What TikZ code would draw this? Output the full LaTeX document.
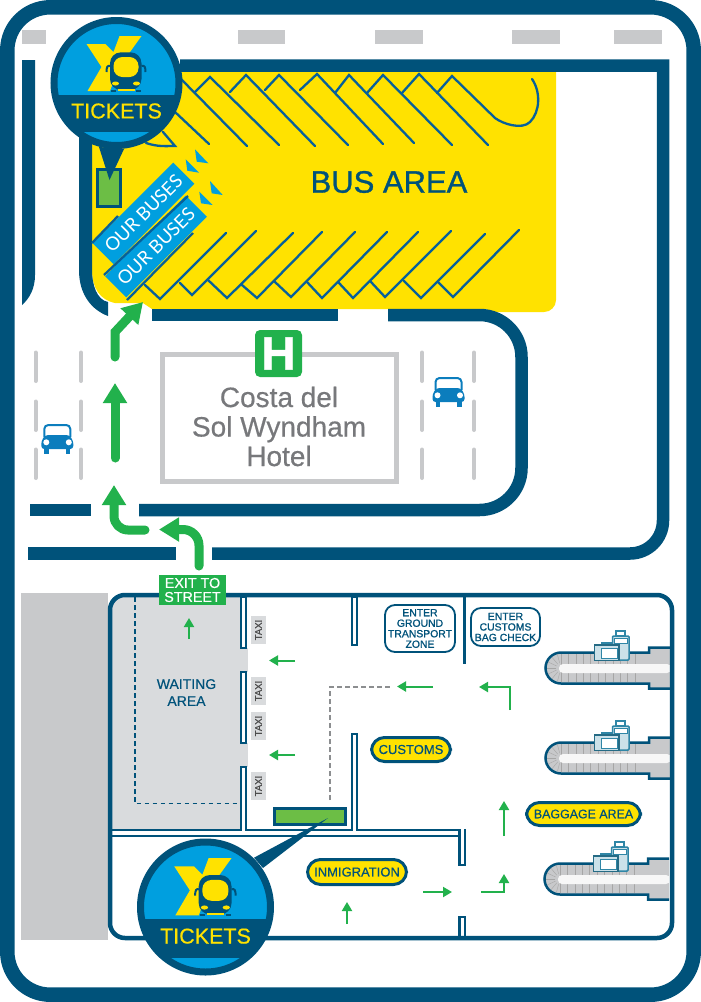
\documentclass[tikz,border=0pt]{standalone}
\usepackage{xcolor}
\usepackage{fontspec}
\setmainfont{Liberation Sans}[RawFeature={embolden=0.5}]
\newfontfamily\platefont{Lato}
\newfontfamily\heavyfont{Liberation Sans}[RawFeature={embolden=1.0}]
\usetikzlibrary{
  arrows.meta,
  shapes.geometric,
  positioning,
  calc
}
\definecolor{mapNavy}{HTML}{00527A}
\definecolor{mapBlue}{HTML}{009FDF}
\definecolor{mapCar}{HTML}{0B7DBD}
\definecolor{mapLine}{HTML}{07609A}
\definecolor{mapYellow}{HTML}{FFE200}
\definecolor{mapGreen}{HTML}{22B14C}
\definecolor{mapBooth}{HTML}{6CBE45}
\definecolor{mapGrey}{HTML}{C8C9CB}
\definecolor{mapLight}{HTML}{D9DBDD}
\definecolor{mapText}{HTML}{77787B}
\definecolor{mapDots}{HTML}{8C8E90}
\definecolor{mapTeal}{HTML}{2F86A6}
\tikzset{
  roadline/.style={draw=mapNavy, line width=12.5pt},
  roaddash/.style={draw=mapGrey, line width=4pt, line cap=round},
  roadmark/.style={fill=mapGrey},
  parkline/.style={draw=mapLine, line width=2.3pt, line cap=round},
  bigarrow/.style={draw=mapGreen, line width=9pt, line cap=round, -{Triangle[length=20pt,width=23pt]}},
  smallarrow/.style={draw=mapGreen, line width=2pt, -{Triangle[length=9pt,width=10pt]}},
  wall/.style={draw=mapNavy, line width=2.3pt, fill=white},
  booth/.style={draw=mapNavy, line width=3pt, fill=mapBooth},
  pill/.style={draw=mapNavy, line width=3pt, fill=mapYellow, rounded corners=13pt, text=mapNavy, inner sep=0pt, font=\fontsize{13}{13}\selectfont},
  enterbox/.style={draw=mapNavy, line width=1.8pt, fill=white, rounded corners=10pt, text=mapNavy, align=center, inner sep=0pt, font=\heavyfont\fontsize{10.4}{10.5}\selectfont},
  taxibox/.style={fill=mapLight, minimum width=15pt, minimum height=28pt, inner sep=0pt},
  taxitext/.style={rotate=90, text=black!70, inner sep=0pt, font=\fontsize{9.5}{9.5}\selectfont},
  platebox/.style={fill=mapBlue, rotate=45, minimum width=114pt, minimum height=30pt, inner sep=0pt, text=white, font=\platefont\fontsize{18.5}{18.5}\selectfont},
  plateedge/.style={draw=mapLine, line width=2.3pt},
  plateflag/.style={fill=mapBlue},
  pics/ticketbadge/.style={code={
    \begin{scope}
      \clip (0,0) circle (63);
      \fill[mapBlue] (-70,-70) rectangle (70,70);
      \fill[mapNavy] (-70,12) rectangle (70,49);
    \end{scope}
    \fill[mapYellow] (-30,-39) -- (-11,-39) -- (-3,-31) -- (3,-47) -- (25,-47) -- (2,-15) -- (-6.5,8) -- (-29,8) -- (-15,-16) -- cycle;
    \draw[mapNavy, line width=2pt] (-6,-17) .. controls (-9,-18) and (-10,-16) .. (-10,-11);
    \draw[mapNavy, line width=2pt] (25,-17) .. controls (28,-18) and (29,-16) .. (29,-11);
    \fill[mapNavy, rounded corners=11pt] (-6.5,7) -- (-6.5,-30.7) -- (25,-30.7) -- (25,7) -- cycle;
    \fill[mapYellow, rounded corners=9pt] (-3,-6) -- (-3,-26) -- (22,-26) -- (22,-6) -- cycle;
    \fill[mapYellow] (-1,0.5) ellipse (3.5 and 2);
    \fill[mapYellow] (20,0.5) ellipse (3.5 and 2);
    \fill[mapYellow] (1,5.5) rectangle (18,7.7);
    \fill[mapNavy] (-5.5,7) rectangle (-0.5,9);
    \fill[mapNavy] (19.5,7) rectangle (24.5,9);
    \draw[mapNavy, line width=7pt] (0,0) circle (62.5);
    \node[text=mapYellow, inner sep=0pt, font=\fontsize{21.5}{21.5}\selectfont] (-label) at (0,28) {TICKETS};
  }},
  pics/carmark/.style={code={
    \draw[mapCar, line width=2pt, rounded corners=4pt] (-13,-2) -- (-13,-14) -- (13,-14) -- (13,-2);
    \fill[mapCar, rounded corners=3pt] (-16,10) -- (-16,2) -- (-12,-4) -- (12,-4) -- (16,2) -- (16,10) -- cycle;
    \fill[mapCar] (-13,9) rectangle (-8.5,15);
    \fill[mapCar] (8.5,9) rectangle (13,15);
    \fill[white] (-11,3.3) circle (3);
    \fill[white] (11.5,3.3) circle (3);
  }},
  pics/beltmark/.style={code={
    \draw[mapNavy, line width=2.5pt, fill=mapGrey] (109,-20.5) -- (88,-20.5) -- (88,-15.5) -- (0,-15.5) .. controls (-8.5,-15.5) and (-15.5,-8.5) .. (-15.5,0) .. controls (-15.5,8.5) and (-8.5,15.5) .. (0,15.5) -- (88,15.5) -- (88,20.5) -- (109,20.5);
    \foreach \tickx in {0,7.4,...,81} {
      \draw[black!35, line width=.4pt] (\tickx,-14) -- (\tickx,14);
    }
    \foreach \tickang in {105,130,155,180,205,230,255} {
      \draw[black!35, line width=.4pt] (\tickang:5) -- (\tickang:14);
    }
    \fill[black!3, rounded corners=4pt] (-2,-4) -- (110,-4) -- (110,5) -- (-2,5) -- cycle;
    \draw[mapTeal, line width=1.3pt, fill=white] (55,-32) rectangle (64,-37);
    \draw[mapTeal, line width=1.5pt, fill=mapTeal!25, rounded corners=1pt] (51.5,-32) rectangle (68,-8);
    \draw[mapTeal, line width=1pt, fill=white] (53.5,-30) rectangle (66,-25);
    \draw[mapTeal, line width=1.3pt, fill=mapTeal] (41,-23) rectangle (51,-25);
    \draw[mapTeal!80!black, line width=1.6pt, fill=mapTeal!25] (33.5,-23) rectangle (58,-7.5);
    \draw[mapTeal, line width=1pt, fill=white] (40,-20) rectangle (56,-10);
  }}
}
\begin{document}
\begin{tikzpicture}[x=1pt, y=-1pt]
  \useasboundingbox (0,0) rectangle (701,1002);
  \draw[mapNavy, line width=14.5pt, rounded corners=43pt] (7.3,7.3) rectangle (693.7,994.7);
  % road marks at the top
  \foreach \markx/\markw in {22/24,238/47,375/48,512/48,614/48} {
    \fill[roadmark] (\markx,30) rectangle ++(\markw,14);
  }
  \fill[mapNavy] (22,60) -- (35,60) -- (35,275) .. controls (35,288) and (30,298) .. (22,305) -- cycle;
  % bus area
  \fill[mapYellow, rounded corners=12pt] (92,71) [sharp corners] -- (556,71) [rounded corners=12pt] -- (556,312) [sharp corners] -- (487,312) -- (487,309) -- (152,309) -- (143,303) -- (115,303) .. controls (100,300) and (92,288) .. (92,270) -- cycle;
  \foreach \peakx/\peaky/\stubx/\stuby/\endx/\endy in {
    210/77/195/92/279/145, 246/75/230/92/315/146, 279/75/265/90/348/145, 317/74/300/90/383/144,
    349/75/335/93/414/143, 383/75/367/93/452/145, 419/74/402/93/488/145} {
    \draw[parkline] (\stubx,\stuby) -- (\peakx,\peaky) -- (\endx,\endy);
  }
  \draw[parkline] (175,112) -- (209,144);
  \draw[parkline] (180,78) -- (247,146);
  \draw[parkline] (437,93) -- (452,76) -- (495,118) .. controls (503,124) and (522,130) .. (530,122) .. controls (540,112) and (541,92) .. (532,79);
  \draw[parkline] (146,143) .. controls (158,147) and (166,146) .. (175,146) -- (163,132);
  \foreach \stubx/\stuby/\lowx/\lowy/\endx/\endy in {
    145/285/160/299/226/233, 180/283/192/295/256/231, 208/280/227/298/293/233, 242/285/257/298/322/232,
    275/282/291/297/355/232, 307/282/322/298/387/232, 339/283/353/298/418/232, 371/282/385/297/451/231,
    404/281/421/298/485/234, 438/282/453/297/519/230} {
    \draw[parkline] (\stubx,\stuby) -- (\lowx,\lowy) -- (\endx,\endy);
  }
  \node[text=mapNavy, inner sep=0pt, font=\heavyfont\fontsize{31}{31}\selectfont] (busarea) at (389,182) {BUS AREA};
  % walls around the bus area and the hotel
  \fill[mapNavy] (79,130) -- (79,270) .. controls (79,295) and (92,310) .. (108,316) -- (108,302) .. controls (97,300) and (92,285) .. (92,270) -- (92,130) -- cycle;
  \draw[roadline] (180,65.5) -- (663,65.5) [rounded corners=33pt] -- (663,553.5) -- (212,553.5);
  \draw[roadline] (28,553.5) -- (176,553.5);
  \draw[roadline] (152,315) -- (338,315);
  \draw[roadline, rounded corners=42pt] (388,315) -- (521.5,315) -- (521.5,510) -- (139,510);
  \draw[roadline] (30,510) -- (91,510);
  % hotel
  \draw[mapGrey, line width=5pt] (162.5,354.5) rectangle (396,481.5);
  \node[text=mapText, align=center, inner sep=0pt, font=\fontsize{28}{29.5}\selectfont] (hotel) at (279,426.5) {Costa del\\Sol Wyndham\\Hotel};
  \node[fill=mapGreen, rounded corners=5pt, minimum size=47pt, inner sep=0pt, text=white, font=\heavyfont\fontsize{47}{47}\selectfont\bfseries] (hsign) at (278.5,353.5) {H};
  \foreach \dashx in {35.5,81,422,474} {
    \foreach \dashy in {351,400,448} {
      \draw[roaddash] (\dashx,\dashy+1.5) -- (\dashx,\dashy+30);
    }
  }
  \pic at (57.3,439) {carmark};
  \pic at (448.5,392) {carmark};
  % street arrows
  \draw[bigarrow] (115,357) -- (115,332) -- (143,302);
  \draw[bigarrow] (115,458) -- (115,383);
  \draw[bigarrow, rounded corners=14pt] (145,530) -- (114,530) -- (114,485);
  \draw[bigarrow, rounded corners=16pt] (199,566) -- (199,529.5) -- (159,529.5);
  % terminal
  \fill[mapGrey] (21,593) rectangle (108,940);
  \fill[white, rounded corners=15pt] (110,595) rectangle (672,938);
  \fill[mapLight, rounded corners=15pt] (110,830) [rounded corners=15pt] -- (110,595) [sharp corners] -- (243,595) -- (243,830) -- cycle;
  \fill[mapLight] (243,648) rectangle (248,672);
  \fill[mapLight] (243,743) rectangle (248,767);
  \draw[mapNavy, line width=1.8pt, dash pattern=on 4.5pt off 3.5pt] (135,597) -- (135,803.5) -- (240,803.5);
  \node[text=mapNavy, align=center, inner sep=0pt, font=\fontsize{14}{17}\selectfont] (waiting) at (186.5,692.5) {WAITING\\AREA};
  \pic at (561,668) {beltmark};
  \pic at (561,758) {beltmark};
  \pic at (560,879) {beltmark};
  \draw[mapNavy, line width=2.3pt] (112,830) -- (465,830);
  \draw[mapNavy, line width=2.3pt] (112,836) -- (465,836);
  \draw[wall] (241.2,597) rectangle (245.8,648);
  \draw[wall] (241.2,672) rectangle (245.8,743);
  \draw[wall] (241.2,767) rectangle (245.8,830);
  \draw[wall] (352.2,597) rectangle (356.8,645);
  \draw[wall] (352.2,734) rectangle (356.8,830);
  \fill[white] (242.4,828) rectangle (244.6,835);
  \fill[white] (353.4,828) rectangle (355.6,835);
  \draw[wall] (459.6,830) rectangle (464.8,865);
  \fill[white] (460.8,828.5) rectangle (463.6,835);
  \draw[mapNavy, line width=2.3pt] (465,830) -- (465,836);
  \draw[wall] (459.6,917) rectangle (464.8,938);
  \draw[mapNavy, line width=3pt] (464.5,597) -- (464.5,664);
  \draw[mapNavy, line width=4.5pt, rounded corners=15pt] (110,595) rectangle (672,938);
  \draw[mapDots, line width=2.2pt, dash pattern=on 5pt off 3pt] (330,800) -- (330,687) -- (392,687);
  \foreach \taxiy/\taxiname in {630/taxione,691/taxitwo,726/taxithree,786/taxifour} {
    \node[taxibox] (\taxiname) at (258.5,\taxiy) {};
    \node[taxitext] (\taxiname text) at (\taxiname) {TAXI};
  }
  \draw[smallarrow] (189,639) -- (189,618);
  \draw[smallarrow] (295,660.5) -- (269,660.5);
  \draw[smallarrow] (295,755) -- (269,755);
  \draw[smallarrow] (433,686.5) -- (397,686.5);
  \draw[smallarrow] (510,710) -- (510,687) -- (479,687);
  \draw[smallarrow] (504,836) -- (504,801);
  \draw[smallarrow] (423,892) -- (452,892);
  \draw[smallarrow] (481,892) -- (504,892) -- (504,874);
  \draw[smallarrow] (347,924) -- (347,902);
  \node[pill, minimum width=79pt, minimum height=24pt] (customs) at (411,749.5) {CUSTOMS};
  \node[pill, minimum width=99pt, minimum height=25pt] (inmigration) at (357,872) {INMIGRATION};
  \node[pill, minimum width=114pt, minimum height=23pt, font=\fontsize{12.4}{12.4}\selectfont] (baggage) at (583.5,814) {BAGGAGE AREA};
  \node[enterbox, minimum width=70pt, minimum height=47pt] (enterground) at (420,628.5) {ENTER\\GROUND\\TRANSPORT\\ZONE};
  \node[enterbox, minimum width=69pt, minimum height=38pt] (entercustoms) at (505.5,627) {ENTER\\CUSTOMS\\BAG CHECK};
  \node[fill=mapGreen, minimum width=67pt, minimum height=30pt, inner sep=0pt, align=center, text=white, font=\fontsize{14.3}{14}\selectfont] (exitstreet) at (192.5,590) {EXIT TO\\STREET};
  % our buses plates
  \node[platebox] (plateone) at (143.5,213.5) {OUR BUSES};
  \draw[plateedge] (92,243) -- (118,216);
  \node[platebox] (platetwo) at (156,246.5) {OUR BUSES};
  \draw[plateedge] (104,275) -- (188,196);
  \draw[plateedge] (127,300) -- (193,233);
  \fill[plateflag] (195,149.3) -- (208.3,163.3) -- (196.7,161.7) -- cycle;
  \fill[plateflag] (185.7,159.3) -- (199,172.7) -- (187.3,170.7) -- cycle;
  \fill[plateflag] (210,181) -- (222.7,195) -- (211.7,193.3) -- cycle;
  \fill[plateflag] (199.3,191.7) -- (212.7,205) -- (201,203.3) -- cycle;
  % ticket booths
  \draw[booth] (97.5,169.5) rectangle (120.5,206.5);
  \draw[booth] (274.5,808.5) rectangle (345.5,824.5);
  \fill[mapNavy] (99,147) -- (124,149) -- (109.5,180) -- cycle;
  \fill[mapNavy] (254,857.7) -- (263,868) -- (328,818) -- cycle;
  \pic (upperbadge) at (116.5,83) {ticketbadge};
  \pic[scale=1.04] (lowerbadge) at (205.5,907) {ticketbadge};
\end{tikzpicture}
\end{document}
